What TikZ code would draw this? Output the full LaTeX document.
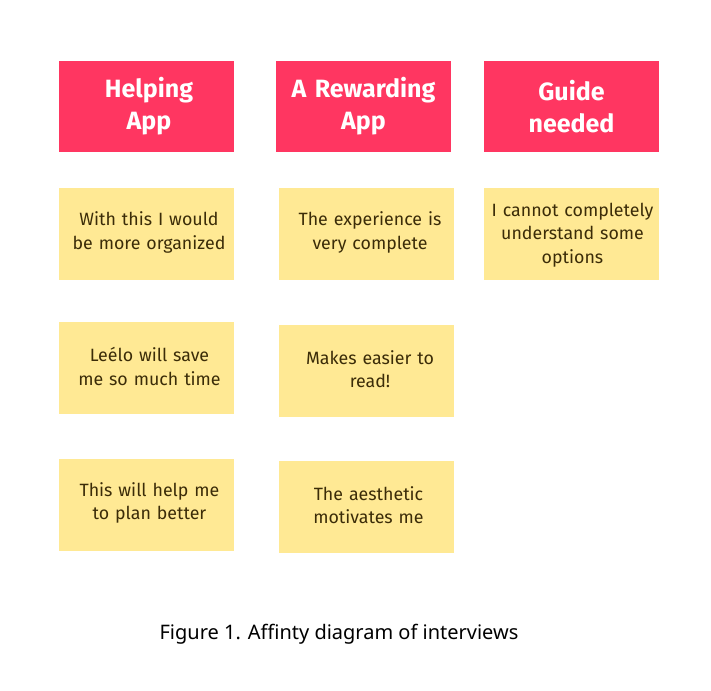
\documentclass[tikz,border=0pt]{standalone}
\usepackage{fontspec}
\setmainfont{Fira Sans}
\newfontfamily\capfont{Noto Sans}
\definecolor{headpink}{HTML}{FF3661}
\definecolor{notey}{HTML}{FFE994}
\definecolor{notetxt}{HTML}{3B2C08}
\begin{document}
\begin{tikzpicture}[x=1pt,y=-1pt,
  headbox/.style={fill=headpink,draw=none,minimum width=175pt,minimum height=91pt,inner sep=0pt},
  headtext/.style={text width=172pt,align=center,text=white,inner sep=0pt,
    font=\fontsize{25}{32}\selectfont\bfseries},
  notebox/.style={fill=notey,draw=none,minimum width=175pt,minimum height=92pt,inner sep=0pt},
  notetext/.style={text width=172pt,align=center,text=notetxt,inner sep=0pt,
    font=\fontsize{17.8}{23.5}\selectfont}]
\useasboundingbox (0,0) rectangle (711,690);
\node[headbox] (h1) at (146,106.5) {};
\node[headtext] (h1t) at ([xshift=3pt]h1) {Helping\\App};
\node[headbox] (h2) at (363.5,106.5) {};
\node[headtext] (h2t) at (h2) {A Rewarding\\App};
\node[headbox] (h3) at (571.5,106.5) {};
\node[headtext] (h3t) at (h3) {Guide\\needed};
\node[notebox] (a1) at (146,234) {};
\node[notetext] (a1t) at ([xshift=3pt,yshift=1.5pt]a1) {With this I would\\be more organized};
\node[notebox] (b1) at (366.5,234) {};
\node[notetext] (b1t) at ([xshift=3.5pt,yshift=1.5pt]b1) {The experience is\\very complete};
\node[notebox] (c1) at (571.5,234) {};
\node[notetext] (c1t) at ([xshift=1pt,yshift=-1pt]c1) {I cannot completely\\understand some\\options};
\node[notebox] (a2) at (146.5,368) {};
\node[notetext] (a2t) at ([xshift=3pt,yshift=1.5pt]a2) {Leélo will save\\me so much time};
\node[notebox] (b2) at (366.5,370.5) {};
\node[notetext] (b2t) at ([xshift=3.5pt,yshift=1.5pt]b2) {Makes easier to\\read!};
\node[notebox] (a3) at (146.5,504.5) {};
\node[notetext] (a3t) at ([xshift=3pt,yshift=1.5pt]a3) {This will help me\\to plan better};
\node[notebox] (b3) at (366.5,506.5) {};
\node[notetext] (b3t) at ([xshift=2pt,yshift=1.5pt]b3) {The aesthetic\\motivates me};
\node[font=\capfont\fontsize{20}{24}\selectfont,text=black,inner sep=0pt] (cap) at (339,634) {Figure 1. Affinty diagram of interviews};
\end{tikzpicture}
\end{document}
